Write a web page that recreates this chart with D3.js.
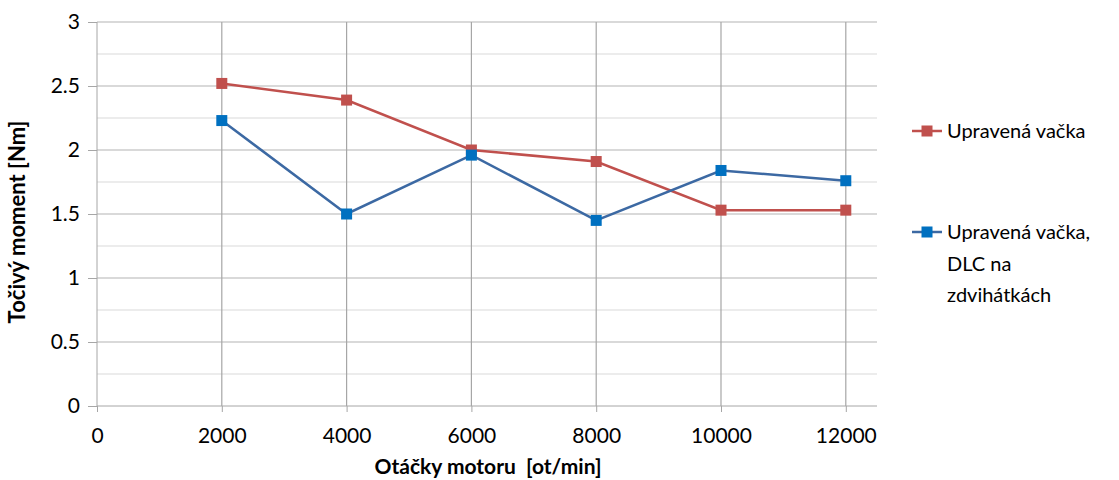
<!DOCTYPE html>
<html>
<head>
<meta charset="utf-8">
<script src="https://cdn.jsdelivr.net/npm/d3@7"></script>
<style>
  html, body { margin: 0; padding: 0; background: #fff; }
  svg text { font-family: Lato, "Open Sans", sans-serif; fill: #000; }
</style>
</head>
<body>
<svg id="chart" width="1119" height="480"></svg>
<script>
// Engine speed [ot/min]
const rpm = [2000, 4000, 6000, 8000, 10000, 12000];
// Torque [Nm] per configuration
const torqueCam = [2.52, 2.39, 2.00, 1.91, 1.53, 1.53];
const torqueCamDlc = [2.23, 1.50, 1.96, 1.45, 1.84, 1.76];
const seriesNames = ["Upravená vačka", "Upravená vačka, DLC na zdvihátkách"];
const xTicks = [0, 2000, 4000, 6000, 8000, 10000, 12000];
const yTicks = [0, 0.5, 1, 1.5, 2, 2.5, 3];
const yMinor = [0.25, 0.75, 1.25, 1.75, 2.25, 2.75];

const svg = d3.select("#chart");
const plot = { left: 97, right: 877, top: 22, bottom: 406 };

const x = d3.scaleLinear().domain([0, 12500]).range([plot.left, plot.right]);
const y = d3.scaleLinear().domain([0, 3]).range([plot.bottom, plot.top]);

// minor horizontal grid
svg.append("g").selectAll("line").data(yMinor).join("line")
  .attr("x1", plot.left).attr("x2", plot.right)
  .attr("y1", d => y(d)).attr("y2", d => y(d))
  .attr("stroke", "#d9d9d9").attr("stroke-width", 1.2);

// major horizontal grid
svg.append("g").selectAll("line").data(yTicks.filter(d => d > 0)).join("line")
  .attr("x1", plot.left).attr("x2", plot.right)
  .attr("y1", d => y(d)).attr("y2", d => y(d))
  .attr("stroke", "#b3b3b3").attr("stroke-width", 1.2);

// vertical grid
svg.append("g").selectAll("line").data(xTicks.filter(d => d > 0)).join("line")
  .attr("x1", d => x(d)).attr("x2", d => x(d))
  .attr("y1", plot.top).attr("y2", plot.bottom)
  .attr("stroke", "#a6a6a6").attr("stroke-width", 1.2);

// axes
const yAxis = d3.axisLeft(y).tickValues(yTicks).tickSize(9).tickPadding(8).tickFormat(d3.format("~g"));
const gy = svg.append("g").attr("transform", `translate(${plot.left},0)`).call(yAxis);
gy.select(".domain").attr("stroke", "#a6a6a6").attr("d", `M0,${plot.top}V${plot.bottom}`);
gy.selectAll(".tick line").attr("stroke", "#a6a6a6");
gy.selectAll(".tick text").attr("font-size", 21).attr("font-family", "Lato, sans-serif");

const xAxis = d3.axisBottom(x).tickValues(xTicks).tickSize(6).tickPadding(16).tickFormat(d3.format("d"));
const gx = svg.append("g").attr("transform", `translate(0,${plot.bottom})`).call(xAxis);
gx.select(".domain").attr("stroke", "#a6a6a6").attr("d", `M${plot.left},0H${plot.right}`);
gx.selectAll(".tick line").attr("stroke", "#a6a6a6");
gx.selectAll(".tick text").attr("font-size", 21).attr("font-family", "Lato, sans-serif");

// axis titles
svg.append("text")
  .attr("transform", `translate(25,${(plot.top + plot.bottom) / 2 + 8}) rotate(-90)`)
  .attr("text-anchor", "middle")
  .attr("font-size", 22).attr("font-weight", "bold")
  .text("Točivý moment [Nm]");

svg.append("text")
  .attr("x", 488).attr("y", 474)
  .attr("text-anchor", "middle")
  .attr("font-size", 21).attr("font-weight", "bold")
  .style("white-space", "pre")
  .text("Otáčky motoru  [ot/min]");

const series = [
  { name: seriesNames[0], values: torqueCam, line: "#c0504d", marker: "#c0504d" },
  { name: seriesNames[1], values: torqueCamDlc, line: "#3c69a3", marker: "#0070c0" }
];

const lineGen = d3.line().x((d, i) => x(rpm[i])).y(d => y(d));

series.forEach(s => {
  svg.append("path").datum(s.values)
    .attr("fill", "none").attr("stroke", s.line).attr("stroke-width", 2.5)
    .attr("d", lineGen);
  svg.append("g").selectAll("rect").data(s.values).join("rect")
    .attr("x", (d, i) => x(rpm[i]) - 5.5).attr("y", d => y(d) - 5.5)
    .attr("width", 11).attr("height", 11)
    .attr("fill", s.marker);
});

// legend
const legendItems = [
  { s: series[0], y: 131, lines: ["Upravená vačka"] },
  { s: series[1], y: 232, lines: ["Upravená vačka,", "DLC na", "zdvihátkách"] }
];
legendItems.forEach(item => {
  const g = svg.append("g");
  g.append("line").attr("x1", 912).attr("x2", 942).attr("y1", item.y).attr("y2", item.y)
    .attr("stroke", item.s.line).attr("stroke-width", 2.5);
  g.append("rect").attr("x", 927 - 5.5).attr("y", item.y - 5.5).attr("width", 11).attr("height", 11)
    .attr("fill", item.s.marker);
  const t = g.append("text").attr("x", 947).attr("y", item.y + 7).attr("font-size", 20);
  item.lines.forEach((ln, i) => {
    t.append("tspan").attr("x", 947).attr("dy", i === 0 ? 0 : 31.5).text(ln);
  });
});
</script>
</body>
</html>
